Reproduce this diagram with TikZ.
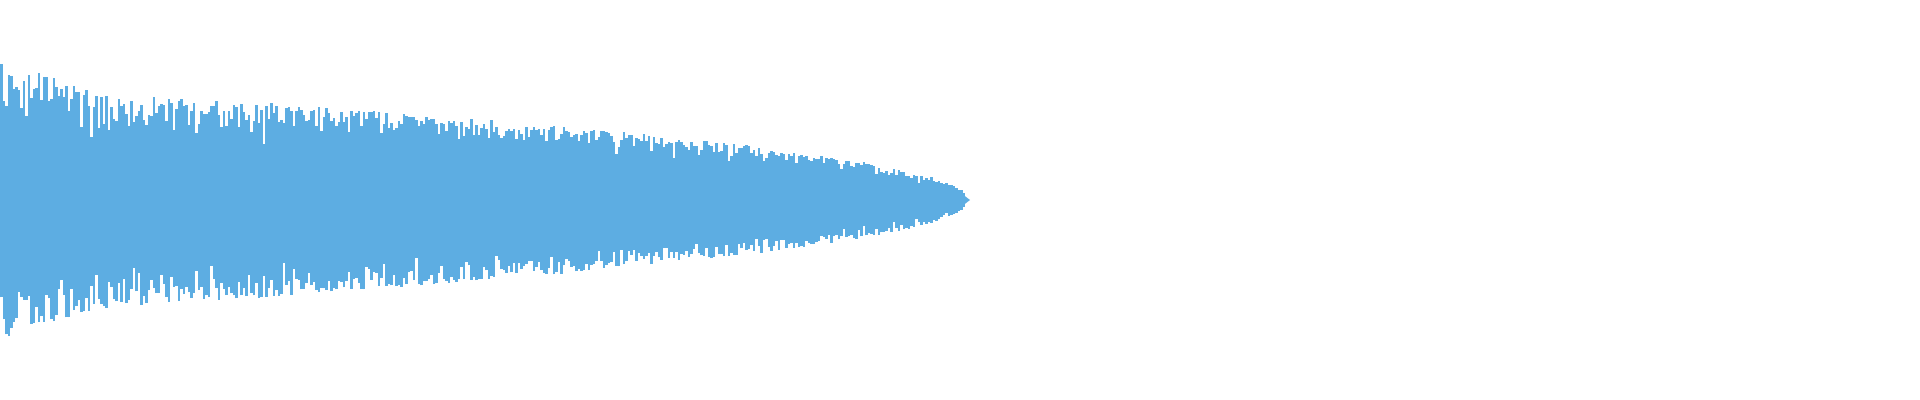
\documentclass[tikz,border=0pt]{standalone}
\definecolor{wave}{RGB}{93,173,226}
\begin{document}
\begin{tikzpicture}[x=0.01cm, y=0.01cm,
    declare function={
      env(\t) = 108*sqrt(max(970-\t,0)/870) + 26*max(1-\t/100,0);
      core(\t) = min(55, 0.6*env(\t));
    },
    bar/.style = {draw=wave, line width=0.024cm}
                    ]
\useasboundingbox (0,0) rectangle (1920,400);
\pgfmathsetseed{7}
% solid core of the wave
\fill[wave] plot[domain=0:970, samples=120] (\x, {200+core(\x)})
            -- plot[domain=970:0, samples=120] (\x, {200-core(\x)}) -- cycle;
% peaks
\foreach \i in {1,...,386}
{
    \pgfmathsetmacro\px{2.5*\i-1}
    \pgfmathsetmacro\a{env(\px)}
    \pgfmathsetmacro\c{core(\px)}
    \pgfmathsetmacro\up{\c+(rnd^0.35)*(\a-\c)}
    \pgfmathsetmacro\dn{\c+(rnd^0.35)*(\a-\c)}
    \draw[bar] (\px, {200-\dn}) -- (\px, {200+\up});
}
\end{tikzpicture}
\end{document}
